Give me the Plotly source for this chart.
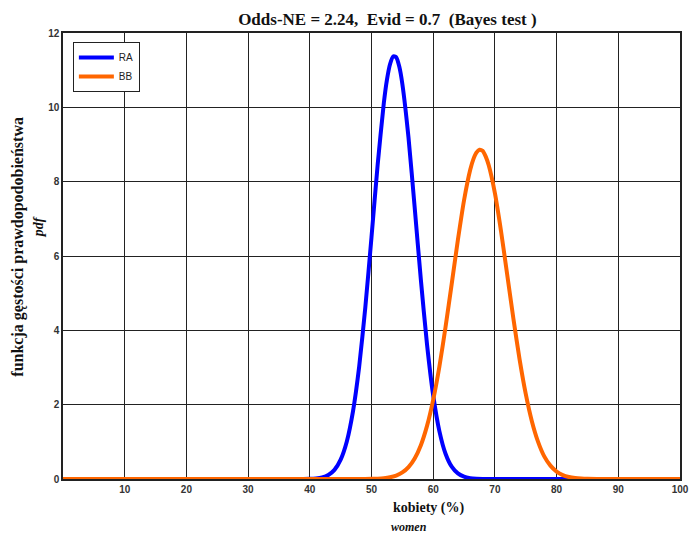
import plotly.graph_objects as go

# values
ra_x = [25, 30, 35, 38, 39, 40, 41, 42, 43, 44, 45, 46, 47, 48, 49, 50, 51, 52, 52.5, 53,
        53.5, 54, 54.5, 55, 56, 57, 58, 59, 60, 61, 62, 63, 64, 65, 66, 67, 68, 70, 80, 94]
ra_y = [0, 0, 0, 0.001, 0.002, 0.005, 0.016, 0.043, 0.107, 0.245, 0.52, 1.01, 1.82, 3.02,
        4.62, 6.51, 8.46, 10.12, 10.74, 11.16, 11.37, 11.35, 11.10, 10.63, 9.18, 7.30, 5.36,
        3.62, 2.25, 1.29, 0.68, 0.33, 0.15, 0.062, 0.024, 0.008, 0.003, 0, 0, 0]

bb_x = [0, 10, 20, 30, 40, 45, 48, 50, 51, 52, 53, 54, 55, 56, 57, 58, 59, 60, 61, 62, 63,
        64, 65, 66, 66.5, 67, 67.5, 68, 68.5, 69, 70, 71, 72, 73, 74, 75, 76, 77, 78, 79,
        80, 81, 82, 83, 84, 85, 88, 90, 100]
bb_y = [0, 0, 0, 0, 0, 0, 0.001, 0.004, 0.010, 0.022, 0.046, 0.092, 0.176, 0.320, 0.553,
        0.91, 1.43, 2.13, 3.02, 4.09, 5.25, 6.43, 7.50, 8.32, 8.60, 8.78, 8.86, 8.83, 8.68,
        8.44, 7.69, 6.66, 5.49, 4.31, 3.22, 2.29, 1.55, 1.00, 0.61, 0.36, 0.20, 0.105,
        0.053, 0.025, 0.011, 0.005, 0.001, 0, 0]

x_ticks = [10, 20, 30, 40, 50, 60, 70, 80, 90, 100]
y_ticks = [0, 2, 4, 6, 8, 10, 12]

serif = "Liberation Serif"
sans = "Liberation Sans"

fig = go.Figure()
fig.add_trace(go.Scatter(x=ra_x, y=ra_y, mode='lines', name='RA',
                         line=dict(color='#0000FF', width=4, shape='spline', smoothing=0.6),
                         cliponaxis=False))
fig.add_trace(go.Scatter(x=bb_x, y=bb_y, mode='lines', name='BB',
                         line=dict(color='#FF6600', width=4, shape='spline', smoothing=0.6),
                         cliponaxis=False))

fig.update_layout(
    width=698, height=534,
    margin=dict(l=63, r=9, t=33, b=55),
    paper_bgcolor='white', plot_bgcolor='white',
    title=dict(text='<b>Odds-NE = 2.24,  Evid = 0.7  (Bayes test )</b>',
               x=0.555, xanchor='center', y=0.965, yanchor='middle',
               font=dict(family=serif, size=17, color='#111')),
    legend=dict(x=0.016, y=0.98, xanchor='left', yanchor='top',
                bgcolor='white', bordercolor='#222', borderwidth=1,
                font=dict(family=sans, size=10, color='#222'),
                itemwidth=35, tracegroupgap=0),
    showlegend=True,
)

fig.update_xaxes(range=[0, 100], tickvals=x_ticks, showgrid=True, gridcolor='#222',
                 gridwidth=1.2, showline=True, linecolor='#222', linewidth=1.5,
                 mirror=True, layer='below traces', zeroline=False, ticks='',
                 tickfont=dict(family=sans, size=10, color='#333', weight='bold'))
fig.update_yaxes(range=[0, 12], tickvals=y_ticks, showgrid=True, gridcolor='#222',
                 gridwidth=1.2, showline=True, linecolor='#222', linewidth=1.5,
                 mirror=True, layer='below traces', zeroline=False, ticks='',
                 tickfont=dict(family=sans, size=10, color='#333', weight='bold'))

# axis titles placed as annotations to match the reference offsets
fig.add_annotation(text='<b>funkcja gęstości prawdopodobieństwa</b>', textangle=-90,
                   xref='paper', yref='paper', x=-0.072, y=0.52, showarrow=False,
                   xanchor='center', yanchor='middle',
                   font=dict(family=serif, size=16, color='#111'))
fig.add_annotation(text='<b><i>pdf</i></b>', textangle=-90,
                   xref='paper', yref='paper', x=-0.04, y=0.565, showarrow=False,
                   xanchor='center', yanchor='middle',
                   font=dict(family=serif, size=14, color='#111'))
fig.add_annotation(text='<b>kobiety (%)</b>', xref='paper', yref='paper',
                   x=0.594, y=-0.066, showarrow=False, xanchor='center', yanchor='middle',
                   font=dict(family=serif, size=14, color='#111'))
fig.add_annotation(text='<b><i>women</i></b>', xref='paper', yref='paper',
                   x=0.56, y=-0.108, showarrow=False, xanchor='center', yanchor='middle',
                   font=dict(family=serif, size=12, color='#111'))

fig.write_html("out.html", config={'displayModeBar': False},
               post_script="document.body.style.margin='0';")
